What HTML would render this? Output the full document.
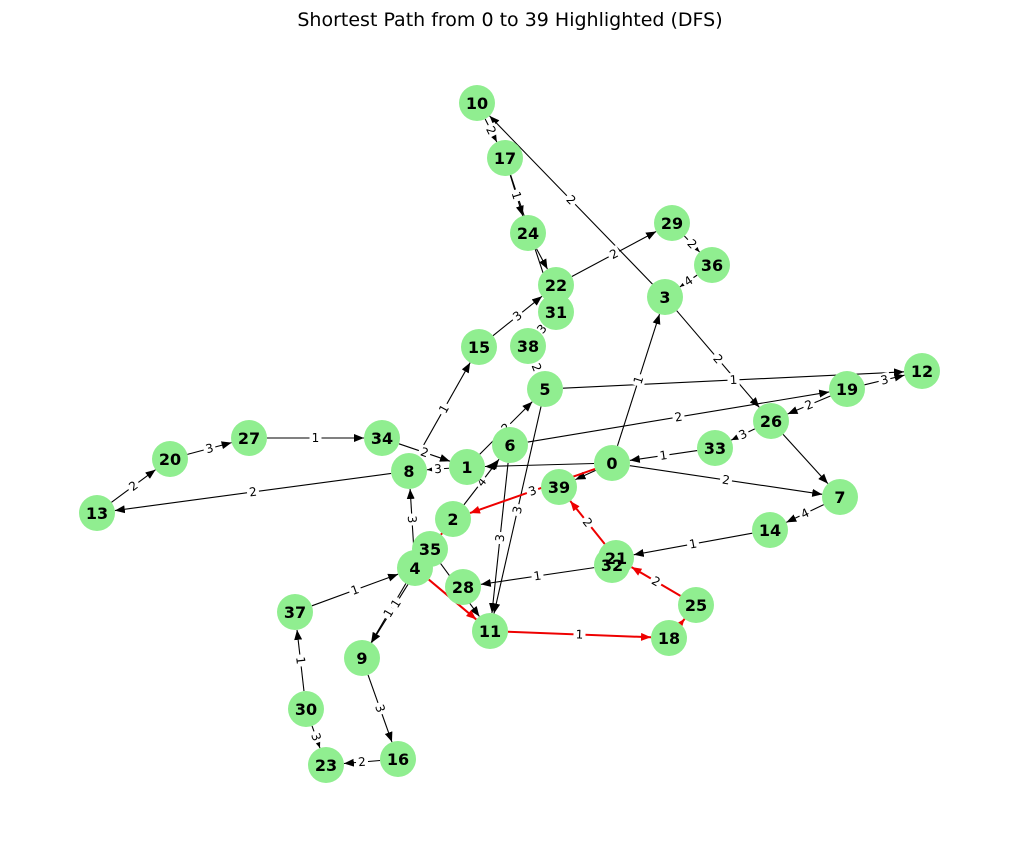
<!DOCTYPE html>
<html><head><meta charset="utf-8"><style>
body{margin:0;background:#fff;font-family:"Liberation Sans",sans-serif}
svg text{font-family:"DejaVu Sans","Liberation Sans",sans-serif}
</style></head><body>
<svg id="g" width="1019" height="844">
<text x="510" y="26" text-anchor="middle" font-size="19">Shortest Path from 0 to 39 Highlighted (DFS)</text>
<defs>
<marker id="ab" markerWidth="10" markerHeight="8" refX="10" refY="4" orient="auto" markerUnits="userSpaceOnUse"><path d="M0,0L10,4L0,8z" fill="#000"/></marker>
<marker id="ar" markerWidth="10" markerHeight="8" refX="10" refY="4" orient="auto" markerUnits="userSpaceOnUse"><path d="M0,0L10,4L0,8z" fill="#e00"/></marker>
</defs>
<g id="edges"></g><g id="labels"></g><g id="nodes"></g><g id="nlabels"></g>
</svg>
<script>
const nodeIds=[0,1,2,3,4,5,6,7,8,9,10,11,12,13,14,15,16,17,18,19,20,21,22,23,24,25,26,27,28,29,30,31,32,33,34,35,36,37,38,39];
const nodeX=[612,467,453,665,415,545,510,840,409,362,477,490,922,97,770,479,398,505,669,847,170,616,556,326,528,696,771,249,463,672,306,556,612,715,382,430,712,295,528,559];
const nodeY=[463,467,519,297,568,389,445,497,471,658,103,631,371,513,530,347,759,158,638,389,459,558,285,765,233,605,421,438,587,223,709,312,565,448,438,549,265,612,346,487];
const edgeSrc=[0,0,0,0,33,26,26,3,3,5,19,19,6,8,34,27,20,13,8,1,2,15,22,29,36,17,10,17,24,38,38,5,6,4,35,37,4,35,30,30,16,9,32,14,7,1,0,2,4,11,18,25,21];
const edgeDst=[3,7,1,39,0,33,7,26,10,12,12,26,19,13,1,34,27,20,15,5,6,22,29,36,3,24,17,31,22,31,5,11,11,8,11,4,9,9,37,23,23,16,28,21,14,8,2,35,11,18,25,21,39];
const edgeW=[1,2,0,0,1,3,0,2,2,1,3,2,2,2,2,1,3,2,1,2,4,3,2,2,4,1,2,2,0,3,2,3,3,3,4,1,1,1,1,3,2,3,1,1,4,3,3,0,0,1,0,2,2];
const redFrom=46;
const R=18;
const ns="http://www.w3.org/2000/svg";
const E=document.getElementById('edges'),L=document.getElementById('labels'),N=document.getElementById('nodes'),NL=document.getElementById('nlabels');
for(let i=0;i<edgeSrc.length;i++){
 const a=edgeSrc[i],b=edgeDst[i];
 const x1=nodeX[a],y1=nodeY[a],x2=nodeX[b],y2=nodeY[b];
 const d=Math.hypot(x2-x1,y2-y1)||1,ux=(x2-x1)/d,uy=(y2-y1)/d;
 const red=i>=redFrom;
 const l=document.createElementNS(ns,'line');
 
 
 l.setAttribute('x1',x1+ux*R);l.setAttribute('y1',y1+uy*R);
 l.setAttribute('x2',x2-ux*R);l.setAttribute('y2',y2-uy*R);
 l.setAttribute('stroke',red?'#e00':'#000');l.setAttribute('stroke-width',red?2:1.1);
 l.setAttribute('marker-end',red?'url(#ar)':'url(#ab)');
 E.appendChild(l);
 if(edgeW[i]>0){
  const mx=(x1+x2)/2,my=(y1+y2)/2;
  let ang=Math.atan2(y2-y1,x2-x1)*180/Math.PI;if(ang>90)ang-=180;if(ang<-90)ang+=180;
  const bg=document.createElementNS(ns,'rect');
  
  
  bg.setAttribute('x',mx-6);bg.setAttribute('y',my-7);bg.setAttribute('width',12);bg.setAttribute('height',14);
  bg.setAttribute('fill','#fff');bg.setAttribute('transform','rotate('+ang+' '+mx+' '+my+')');
  L.appendChild(bg);
  const t=document.createElementNS(ns,'text');
  
  
  t.setAttribute('x',mx);t.setAttribute('y',my+4);t.setAttribute('text-anchor','middle');t.setAttribute('font-size','12');
  t.setAttribute('transform','rotate('+ang+' '+mx+' '+my+')');
  t.textContent=edgeW[i];L.appendChild(t);
 }
}
for(let i=0;i<nodeIds.length;i++){
 const c=document.createElementNS(ns,'circle');
 
 
 c.setAttribute('cx',nodeX[i]);c.setAttribute('cy',nodeY[i]);c.setAttribute('r',R);c.setAttribute('fill','#90ee90');
 N.appendChild(c);
 const t=document.createElementNS(ns,'text');
 
 
 t.setAttribute('x',nodeX[i]);t.setAttribute('y',nodeY[i]+6);t.setAttribute('text-anchor','middle');
 t.setAttribute('font-size','16');t.setAttribute('font-weight','bold');
 t.textContent=nodeIds[i];NL.appendChild(t);
}
</script>
</body></html>
